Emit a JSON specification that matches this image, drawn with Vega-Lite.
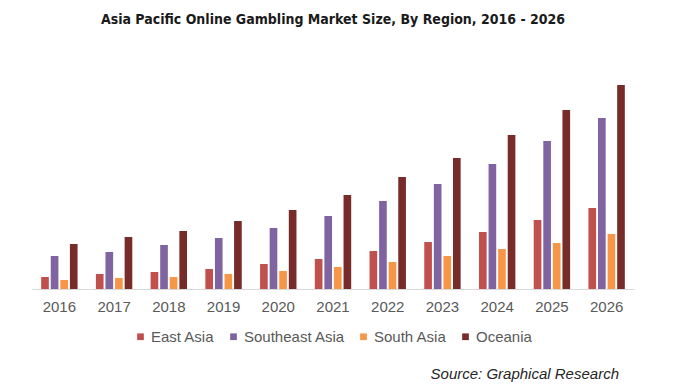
{
  "$schema": "https://vega.github.io/schema/vega-lite/v6.json",
  "padding": {"left": 32, "top": 13, "right": 5, "bottom": 5},
  "background": "white",
  "title": {"text": "Asia Pacific Online Gambling Market Size, By Region, 2016 - 2026", "font": "'Liberation Sans Narrow', 'DejaVu Sans Condensed', 'Roboto Condensed', Roboto, sans-serif", "fontSize": 14, "fontWeight": "bold", "color": "#1a1a1a", "anchor": "middle", "frame": "group", "offset": 23},
  "data": {"values": [
    {"year": "2016", "region": "East Asia", "value": 12},
    {"year": "2016", "region": "Southeast Asia", "value": 33},
    {"year": "2016", "region": "South Asia", "value": 9},
    {"year": "2016", "region": "Oceania", "value": 45},
    {"year": "2017", "region": "East Asia", "value": 15},
    {"year": "2017", "region": "Southeast Asia", "value": 37},
    {"year": "2017", "region": "South Asia", "value": 11},
    {"year": "2017", "region": "Oceania", "value": 52},
    {"year": "2018", "region": "East Asia", "value": 17},
    {"year": "2018", "region": "Southeast Asia", "value": 44},
    {"year": "2018", "region": "South Asia", "value": 12},
    {"year": "2018", "region": "Oceania", "value": 58},
    {"year": "2019", "region": "East Asia", "value": 20},
    {"year": "2019", "region": "Southeast Asia", "value": 51},
    {"year": "2019", "region": "South Asia", "value": 15},
    {"year": "2019", "region": "Oceania", "value": 68},
    {"year": "2020", "region": "East Asia", "value": 25},
    {"year": "2020", "region": "Southeast Asia", "value": 61},
    {"year": "2020", "region": "South Asia", "value": 18},
    {"year": "2020", "region": "Oceania", "value": 79},
    {"year": "2021", "region": "East Asia", "value": 30},
    {"year": "2021", "region": "Southeast Asia", "value": 73},
    {"year": "2021", "region": "South Asia", "value": 22},
    {"year": "2021", "region": "Oceania", "value": 94},
    {"year": "2022", "region": "East Asia", "value": 38},
    {"year": "2022", "region": "Southeast Asia", "value": 88},
    {"year": "2022", "region": "South Asia", "value": 27},
    {"year": "2022", "region": "Oceania", "value": 112},
    {"year": "2023", "region": "East Asia", "value": 47},
    {"year": "2023", "region": "Southeast Asia", "value": 105},
    {"year": "2023", "region": "South Asia", "value": 33},
    {"year": "2023", "region": "Oceania", "value": 131},
    {"year": "2024", "region": "East Asia", "value": 57},
    {"year": "2024", "region": "Southeast Asia", "value": 125},
    {"year": "2024", "region": "South Asia", "value": 40},
    {"year": "2024", "region": "Oceania", "value": 154},
    {"year": "2025", "region": "East Asia", "value": 69},
    {"year": "2025", "region": "Southeast Asia", "value": 148},
    {"year": "2025", "region": "South Asia", "value": 46},
    {"year": "2025", "region": "Oceania", "value": 179},
    {"year": "2026", "region": "East Asia", "value": 81},
    {"year": "2026", "region": "Southeast Asia", "value": 171},
    {"year": "2026", "region": "South Asia", "value": 55},
    {"year": "2026", "region": "Oceania", "value": 204}
  ]},
  "vconcat": [{
    "width": 602,
    "height": 239,
    "title": {"text": "Source: Graphical Research", "orient": "bottom", "anchor": "end", "font": "Liberation Sans", "fontStyle": "italic", "fontWeight": "normal", "fontSize": 15, "color": "#262626", "offset": 53, "dx": -15},
    "mark": {"type": "bar"},
    "encoding": {
      "x": {"field": "year", "type": "ordinal", "scale": {"paddingInner": 0.3, "paddingOuter": 0.15},
        "axis": {"title": null, "labelAngle": 0, "ticks": false, "domainColor": "#d9d9d9", "domainWidth": 1, "labelColor": "#595959", "labelFontSize": 15, "labelFont": "Liberation Sans", "labelPadding": 10}},
      "xOffset": {"field": "region", "type": "nominal", "sort": ["East Asia", "Southeast Asia", "South Asia", "Oceania"], "scale": {"paddingInner": 0.2, "paddingOuter": 0.1}},
      "y": {"field": "value", "type": "quantitative", "scale": {"domain": [0, 239]}, "axis": null},
      "color": {"field": "region", "type": "nominal", "sort": ["East Asia", "Southeast Asia", "South Asia", "Oceania"],
        "scale": {"domain": ["East Asia", "Southeast Asia", "South Asia", "Oceania"], "range": ["#c0504d", "#8064a2", "#f79646", "#772c2a"]},
        "legend": {"title": null, "orient": "none", "legendX": 101, "legendY": 279, "direction": "horizontal", "symbolType": "square", "symbolSize": 45, "symbolStrokeWidth": 0, "labelFontSize": 15, "labelColor": "#595959", "labelFont": "Liberation Sans", "columnPadding": 11, "labelOffset": 3, "padding": 0}}
    }
  }],
  "config": {"view": {"stroke": null}}
}
